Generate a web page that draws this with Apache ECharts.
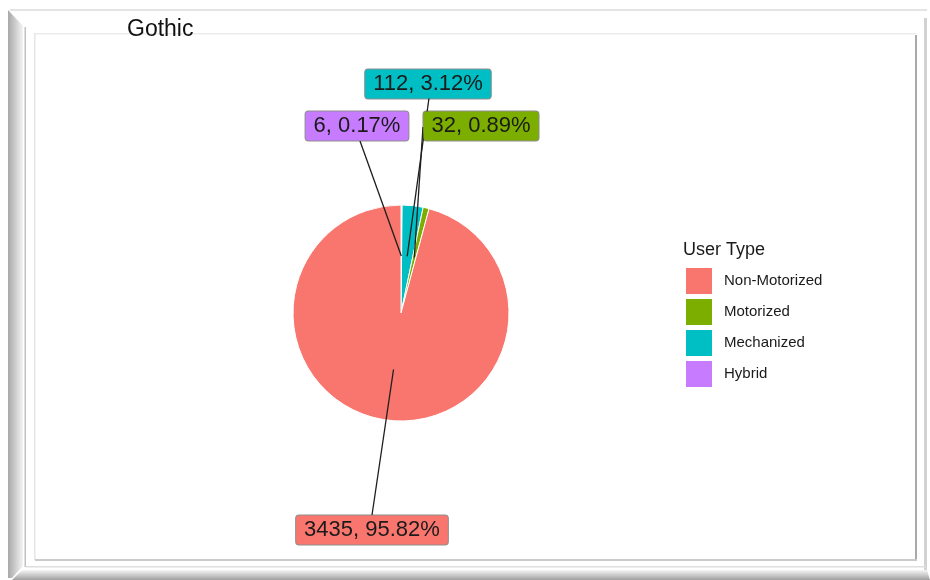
<!DOCTYPE html>
<html>
<head>
<meta charset="utf-8">
<title>Gothic</title>
<script src="https://cdn.jsdelivr.net/npm/echarts@6/dist/echarts.min.js"></script>
<style>
  html, body { margin: 0; padding: 0; background: #ffffff; }
  #chart { width: 930px; height: 580px; }
</style>
</head>
<body>
<div id="chart"></div>
<script>
// Slice order, clockwise from 12 o'clock
const categories = ['Hybrid', 'Mechanized', 'Motorized', 'Non-Motorized'];
const counts = [6, 112, 32, 3435];
// Legend reads top to bottom in this order
const legendOrder = ['Non-Motorized', 'Motorized', 'Mechanized', 'Hybrid'];
const sliceColors = ['#C77CFF', '#00BFC4', '#7CAE00', '#F8766D'];

// Label box centres and where each leader line meets its box
const labelCentres = [[357, 126], [428, 84], [481, 126], [372, 530]];
const lineEnds = [[360, 141], [429, 98], [423, 127], [372, 515]];

const pieCenter = [401, 313];
const pieRadius = 108;
const anchorRadius = 57;

const total = counts.reduce((a, b) => a + b, 0);
// Mid-angle (clockwise from top) of each slice, for leader line anchors
const midAngles = [];
{
  let acc = 0;
  counts.forEach(v => {
    midAngles.push((acc + v / 2) / total * Math.PI * 2);
    acc += v;
  });
}

const FONT = '"Liberation Sans", Arial, Helvetica, sans-serif';

const chart = echarts.init(document.getElementById('chart'), null, { renderer: 'canvas' });

const grad = (x0, y0, x1, y1, c0, c1) => new echarts.graphic.LinearGradient(x0, y0, x1, y1, [
  { offset: 0, color: c0 }, { offset: 1, color: c1 }
]);

const frame = [
  // outer top edge
  { type: 'rect', shape: { x: 10, y: 9, width: 917, height: 2 }, style: { fill: '#e4e4e4' }, silent: true },
  // outer right edge
  { type: 'rect', shape: { x: 924, y: 18, width: 3, height: 556 }, style: { fill: '#d2d2d2' }, silent: true },
  // left bevel
  { type: 'polygon', shape: { points: [[8, 10], [23, 26], [23, 566], [12, 578], [8, 578]] },
    style: { fill: grad(0, 0, 1, 0, '#a8a8a8', '#f4f4f4') }, silent: true },
  { type: 'rect', shape: { x: 24.5, y: 27, width: 1.5, height: 540 }, style: { fill: '#c2c2c2' }, silent: true },
  // bottom bevel
  { type: 'polygon', shape: { points: [[12, 580], [22, 570], [927, 570], [930, 580]] },
    style: { fill: grad(0, 0, 0, 1, '#f6f6f6', '#a0a0a0') }, silent: true },
  { type: 'rect', shape: { x: 26, y: 566, width: 900, height: 1.5 }, style: { fill: '#dedede' }, silent: true },
  // inner panel edges
  { type: 'rect', shape: { x: 34, y: 33, width: 882, height: 1.5 }, style: { fill: '#ececec' }, silent: true },
  { type: 'rect', shape: { x: 34, y: 33, width: 1.5, height: 527 }, style: { fill: '#e6e6e6' }, silent: true },
  { type: 'rect', shape: { x: 915, y: 35, width: 2, height: 526 }, style: { fill: '#a9a9a9' }, silent: true },
  { type: 'rect', shape: { x: 35, y: 559, width: 882, height: 2 }, style: { fill: '#cacaca' }, silent: true }
];

// Coloured slices
const sliceData = categories.map((name, i) => ({
  name: name,
  value: counts[i],
  itemStyle: { color: sliceColors[i] }
}));

// Same values on a transparent overlay, so the labels and leader lines sit above the slices
const labelData = categories.map((name, i) => ({
  name: name,
  value: counts[i],
  label: { backgroundColor: sliceColors[i] }
}));

chart.setOption({
  backgroundColor: '#ffffff',
  animation: false,
  title: [
    {
      text: 'Gothic', left: 127, top: 18, padding: 0,
      textStyle: { fontFamily: FONT, fontSize: 23, fontWeight: 'normal', color: '#111111' }
    },
    {
      text: 'User Type', left: 683, top: 241, padding: 0,
      textStyle: { fontFamily: FONT, fontSize: 18, fontWeight: 'normal', color: '#1a1a1a' }
    }
  ],
  legend: {
    orient: 'vertical',
    left: 686, top: 268, padding: 0,
    itemWidth: 26, itemHeight: 26, itemGap: 5,
    icon: 'rect',
    data: legendOrder.map(name => ({
      name: name,
      itemStyle: { color: sliceColors[categories.indexOf(name)], borderWidth: 0 }
    })),
    selectedMode: false,
    textStyle: { fontFamily: FONT, fontSize: 15, color: '#1a1a1a', padding: [3, 0, 0, 7] }
  },
  graphic: { elements: frame },
  series: [
    {
      type: 'pie',
      z: 2,
      center: pieCenter,
      radius: pieRadius,
      startAngle: 90,
      clockwise: true,
      silent: true,
      itemStyle: { borderColor: '#ffffff', borderWidth: 1 },
      label: { show: false },
      labelLine: { show: false },
      data: sliceData
    },
    {
      type: 'pie',
      z: 4,
      center: pieCenter,
      radius: pieRadius,
      startAngle: 90,
      clockwise: true,
      avoidLabelOverlap: false,
      minShowLabelAngle: 0,
      silent: true,
      itemStyle: { color: 'rgba(0,0,0,0)', borderWidth: 0 },
      label: {
        show: true,
        position: 'outside',
        formatter: '{c}, {d}%',
        fontFamily: FONT,
        fontSize: 22,
        lineHeight: 22,
        color: '#1a1a1a',
        padding: [4, 8, 3, 8],
        borderRadius: 3,
        borderWidth: 1,
        borderColor: 'rgba(50,50,50,0.55)'
      },
      labelLine: {
        show: true,
        length: 10, length2: 10,
        lineStyle: { color: '#1e1e1e', width: 1.3 }
      },
      labelLayout: function (params) {
        const i = params.dataIndex;
        const a = midAngles[i];
        const anchor = [pieCenter[0] + anchorRadius * Math.sin(a), pieCenter[1] - anchorRadius * Math.cos(a)];
        return {
          x: labelCentres[i][0],
          y: labelCentres[i][1],
          align: 'center',
          verticalAlign: 'middle',
          labelLinePoints: [anchor, lineEnds[i], lineEnds[i]]
        };
      },
      data: labelData
    }
  ]
});
</script>
</body>
</html>
